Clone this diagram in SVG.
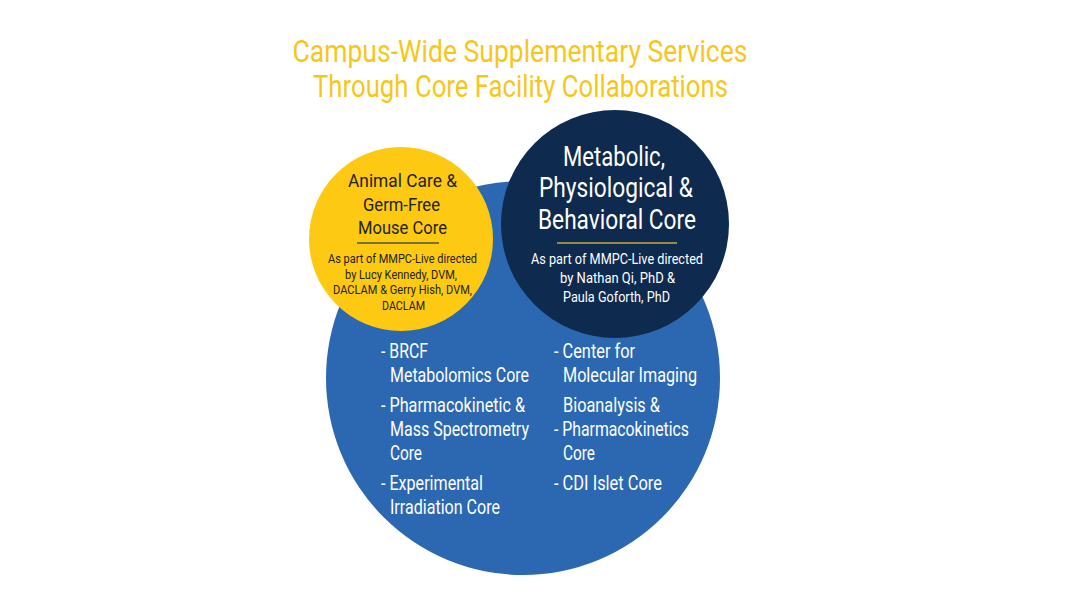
<svg xmlns="http://www.w3.org/2000/svg" width="1090" height="613" viewBox="0 0 1090 613">
<style>
text{font-family:Roboto,"Liberation Sans",sans-serif}
.title{fill:#F6C71B;font-size:31px;text-anchor:middle}
.yh{fill:#231f1a;font-size:19px;text-anchor:middle}
.ys{fill:#231f1a;font-size:13.5px;text-anchor:middle}
.nh{fill:#ffffff;font-size:27px;text-anchor:middle}
.ns{fill:#ffffff;font-size:15px;text-anchor:middle}
.li{fill:#ffffff;font-size:20px}
</style>
<rect width="1090" height="613" fill="#ffffff"/>
<g id="title">
<text class="title" x="520" y="62" textLength="455" lengthAdjust="spacingAndGlyphs">Campus-Wide Supplementary Services</text>
<text class="title" x="520.5" y="97" textLength="415" lengthAdjust="spacingAndGlyphs">Through Core Facility Collaborations</text>
</g>
<g id="campus-services">
<circle cx="523" cy="378" r="197" fill="#2B68B1"/>
<text class="li" x="381" y="358" textLength="47" lengthAdjust="spacingAndGlyphs">- BRCF</text>
<text class="li" x="390" y="382" textLength="139" lengthAdjust="spacingAndGlyphs">Metabolomics Core</text>
<text class="li" x="381" y="412" textLength="144" lengthAdjust="spacingAndGlyphs">- Pharmacokinetic &amp;</text>
<text class="li" x="390" y="436" textLength="139" lengthAdjust="spacingAndGlyphs">Mass Spectrometry</text>
<text class="li" x="390" y="460" textLength="32" lengthAdjust="spacingAndGlyphs">Core</text>
<text class="li" x="381" y="490" textLength="102" lengthAdjust="spacingAndGlyphs">- Experimental</text>
<text class="li" x="390" y="514" textLength="110" lengthAdjust="spacingAndGlyphs">Irradiation Core</text>
<text class="li" x="554" y="358" textLength="81" lengthAdjust="spacingAndGlyphs">- Center for</text>
<text class="li" x="563" y="382" textLength="134" lengthAdjust="spacingAndGlyphs">Molecular Imaging</text>
<text class="li" x="563" y="412" textLength="97" lengthAdjust="spacingAndGlyphs">Bioanalysis &amp;</text>
<text class="li" x="554" y="436" textLength="135" lengthAdjust="spacingAndGlyphs">- Pharmacokinetics</text>
<text class="li" x="563" y="460" textLength="32" lengthAdjust="spacingAndGlyphs">Core</text>
<text class="li" x="554" y="490" textLength="108" lengthAdjust="spacingAndGlyphs">- CDI Islet Core</text>
</g>
<g id="animal-care">
<circle cx="401" cy="239" r="92" fill="#FDC913"/>
<text class="yh" x="402.5" y="187" textLength="109" lengthAdjust="spacingAndGlyphs">Animal Care &amp;</text>
<text class="yh" x="401.5" y="210.5" textLength="77" lengthAdjust="spacingAndGlyphs">Germ-Free</text>
<text class="yh" x="402.5" y="234" textLength="89" lengthAdjust="spacingAndGlyphs">Mouse Core</text>
<line x1="357" y1="243" x2="439" y2="243" stroke="#4a5642" stroke-width="1.6"/>
<text class="ys" x="402.5" y="263" textLength="149" lengthAdjust="spacingAndGlyphs">As part of MMPC-Live directed</text>
<text class="ys" x="401" y="278.5" textLength="112" lengthAdjust="spacingAndGlyphs">by Lucy Kennedy, DVM,</text>
<text class="ys" x="402.5" y="294" textLength="139" lengthAdjust="spacingAndGlyphs">DACLAM &amp; Gerry Hish, DVM,</text>
<text class="ys" x="403.5" y="309.5" textLength="43" lengthAdjust="spacingAndGlyphs">DACLAM</text>
</g>
<g id="metabolic-core">
<circle cx="615" cy="224" r="114" fill="#0E2A4F"/>
<text class="nh" x="614" y="166" textLength="102" lengthAdjust="spacingAndGlyphs">Metabolic,</text>
<text class="nh" x="616" y="197" textLength="154" lengthAdjust="spacingAndGlyphs">Physiological &amp;</text>
<text class="nh" x="617" y="229" textLength="158" lengthAdjust="spacingAndGlyphs">Behavioral Core</text>
<line x1="557" y1="243" x2="677" y2="243" stroke="#C9AA45" stroke-width="1.6"/>
<text class="ns" x="617" y="264" textLength="172" lengthAdjust="spacingAndGlyphs">As part of MMPC-Live directed</text>
<text class="ns" x="617.5" y="283" textLength="115" lengthAdjust="spacingAndGlyphs">by Nathan Qi, PhD &amp;</text>
<text class="ns" x="616.5" y="302" textLength="107" lengthAdjust="spacingAndGlyphs">Paula Goforth, PhD</text>
</g>
</svg>
